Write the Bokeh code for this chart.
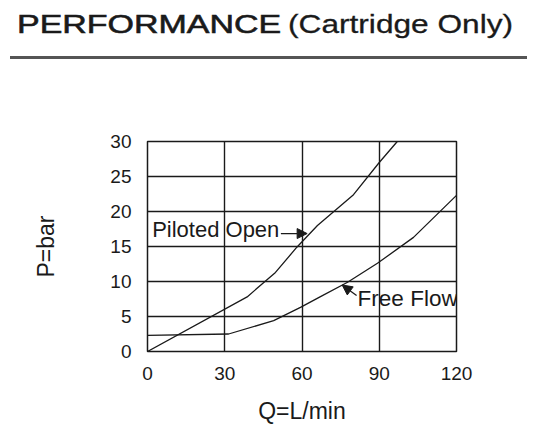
from bokeh.plotting import figure
from bokeh.models import Div, Arrow, NormalHead, Label, FixedTicker, Range1d
from bokeh.layouts import column
from bokeh.embed import file_html
from bokeh.resources import INLINE

# ---- data ----
title_main = "PERFORMANCE"
title_sub = "(Cartridge Only)"
x_label = "Q=L/min"
y_label = "P=bar"
x_ticks = [0, 30, 60, 90, 120]
y_ticks = [0, 5, 10, 15, 20, 25, 30]

piloted_q = [0, 38.7, 49.7, 58.0, 66.0, 80.0, 90.0, 97.0]
piloted_p = [0, 7.8, 11.3, 14.9, 18.0, 22.4, 27.0, 30.0]

free_q = [0, 31.5, 49.0, 59.4, 67.0, 77.7, 89.3, 103.3, 120.0]
free_p = [2.3, 2.5, 4.4, 6.3, 7.8, 9.9, 12.6, 16.3, 22.3]

piloted_text = "Piloted Open"
piloted_text_pos = (1.8, 17.4)
piloted_arrow = ((51.8, 16.85), (62.0, 16.85))
free_text = "Free Flow"
free_text_pos = (81.6, 7.6)
free_arrow = ((81.2, 8.0), (75.6, 9.5))

FONT = "Liberation Sans"
INK = "#1a1a1a"

header = Div(
    text=(
        '<div style="position:relative;width:530px;height:66px;">'
        f'<span style="position:absolute;left:17px;top:11px;font-family:\'{FONT}\',Arial,sans-serif;'
        f'font-size:26px;line-height:1;color:{INK};white-space:nowrap;'
        f'-webkit-text-stroke:0.6px {INK};'
        f'transform:scaleX(1.306);transform-origin:0 0;display:inline-block;">{title_main}</span>'
        f'<span style="position:absolute;left:288px;top:11px;font-family:\'{FONT}\',Arial,sans-serif;'
        f'font-size:26px;line-height:1;color:{INK};white-space:nowrap;'
        f'-webkit-text-stroke:0.3px {INK};'
        f'transform:scaleX(1.217);transform-origin:0 0;display:inline-block;">{title_sub}</span>'
        '<div style="position:absolute;left:10px;top:56px;width:517px;height:3px;background:#555555;"></div>'
        '</div>'
    ),
    width=530, height=66, margin=(0, 0, 0, 0),
)

p = figure(width=530, height=366, output_backend="svg", toolbar_location=None,
           x_range=Range1d(0, 120), y_range=Range1d(0, 30),
           min_border_left=147, min_border_right=74, min_border_top=75, min_border_bottom=81,
           margin=(0, 0, 0, 0))

p.background_fill_color = "white"
p.border_fill_color = "white"
p.outline_line_color = INK
p.outline_line_width = 1.5

for ax in (p.xaxis[0], p.yaxis[0]):
    ax.axis_line_color = None
    ax.major_tick_line_color = None
    ax.minor_tick_line_color = None
    ax.major_label_text_font = FONT
    ax.major_label_text_font_size = "19px"
    ax.major_label_text_color = INK
    ax.axis_label_text_font = FONT
    ax.axis_label_text_font_size = "23px"
    ax.axis_label_text_font_style = "normal"
    ax.axis_label_text_color = INK

p.xaxis[0].ticker = FixedTicker(ticks=x_ticks)
p.yaxis[0].ticker = FixedTicker(ticks=y_ticks)
p.xaxis[0].axis_label = x_label
p.yaxis[0].axis_label = y_label
p.xaxis[0].major_label_standoff = 9
p.yaxis[0].major_label_standoff = 10
p.xaxis[0].axis_label_standoff = 15
p.yaxis[0].axis_label_standoff = 48

p.xgrid[0].ticker = FixedTicker(ticks=x_ticks)
p.ygrid[0].ticker = FixedTicker(ticks=y_ticks)
for g in (p.xgrid[0], p.ygrid[0]):
    g.grid_line_color = INK
    g.grid_line_width = 1.4
    g.grid_line_alpha = 1.0

p.line(piloted_q, piloted_p, line_color=INK, line_width=1.3)
p.line(free_q, free_p, line_color=INK, line_width=1.3)

p.add_layout(Label(x=piloted_text_pos[0], y=piloted_text_pos[1], text=piloted_text,
                   text_font=FONT, text_font_size="22px", text_color=INK,
                   text_baseline="alphabetic", text_align="left"))
p.add_layout(Label(x=free_text_pos[0], y=free_text_pos[1], text=free_text,
                   text_font=FONT, text_font_size="22.5px", text_color=INK,
                   text_baseline="alphabetic", text_align="left"))

for (x0, y0), (x1, y1) in (piloted_arrow, free_arrow):
    p.add_layout(Arrow(x_start=x0, y_start=y0, x_end=x1, y_end=y1,
                       line_color=INK, line_width=1.3,
                       end=NormalHead(size=10, fill_color=INK, line_color=INK)))

layout = column(header, p, spacing=0)
open("out.html", "w").write(file_html(layout, INLINE))
